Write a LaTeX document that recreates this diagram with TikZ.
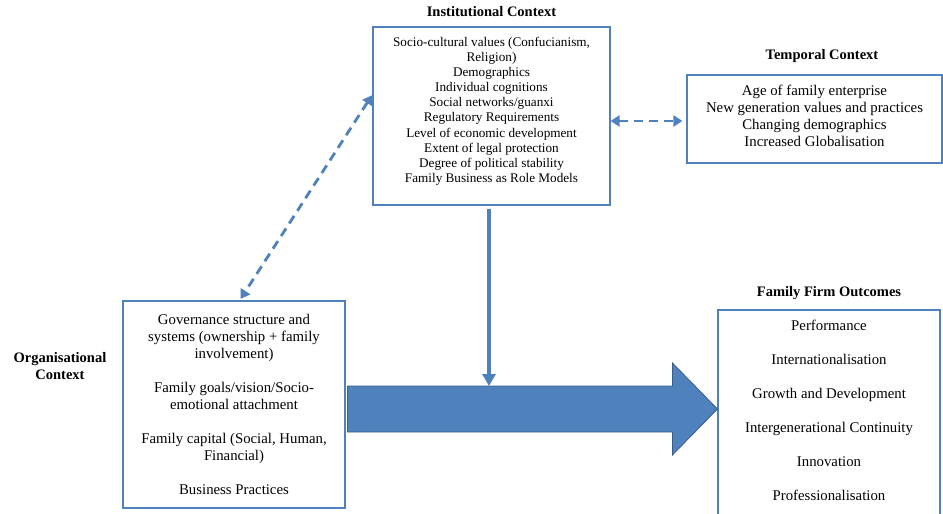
\documentclass[tikz,border=0pt]{standalone}
\usepackage{fontspec}
\setmainfont{Liberation Serif}
\usetikzlibrary{arrows.meta,calc,positioning}
\definecolor{accent}{HTML}{4F81BD}
\definecolor{edgeblue}{HTML}{385D8A}

\begin{document}
\begin{tikzpicture}[x=1pt,y=-1pt,>=Stealth,
  frame/.style={draw=accent,line width=1.1pt,inner sep=0pt},
  body/.style={align=center,inner sep=0pt,font=\fontsize{14.8}{17}\selectfont},
  smallbody/.style={align=center,inner sep=0pt,font=\fontsize{13.2}{15.1}\selectfont},
  title/.style={align=center,inner sep=0pt,font=\fontsize{14.5}{17}\selectfont\bfseries},
  linkarrow/.style={accent,line width=2.8pt,dash pattern=on 9pt off 6pt,
    {Triangle[length=9pt,width=11pt]}-{Triangle[length=9pt,width=11pt]}},
  mainarrow/.style={accent,line width=4.5pt,-{Triangle[length=12pt,width=13pt]}}]
  \useasboundingbox (0,0) rectangle (943,514);

  % boxes
  \node[frame,minimum width=237pt,minimum height=178pt] (inst) at (491.5,116) {};
  \node[smallbody,anchor=north] (instText) at ($(inst.north)+(0,10.5)$) {Socio-cultural values (Confucianism,\\ Religion)\\ Demographics\\ Individual cognitions\\ Social networks/guanxi\\ Regulatory Requirements\\ Level of economic development\\ Extent of legal protection\\ Degree of political stability\\ Family Business as Role Models};
  \node[title,above=10pt of inst] (instTitle) {Institutional Context};

  \node[frame,minimum width=255pt,minimum height=88pt] (temp) at (814.5,119) {};
  \node[body] (tempText) at ($(temp)+(0,-3)$) {Age of family enterprise\\ New generation values and practices\\ Changing demographics\\ Increased Globalisation};
  \node[title] (tempTitle) at (822,56) {Temporal Context};

  \node[frame,body,minimum width=222pt,minimum height=207pt] (org) at (234,404.5) {Governance structure and\\ systems (ownership + family\\ involvement)\\[17pt] Family goals/vision/Socio-\\ emotional attachment\\[17pt] Family capital (Social, Human,\\ Financial)\\[17pt] Business Practices};
  \node[title] (orgTitle) at (60,366.5) {Organisational\\ Context};

  \node[frame,minimum width=222pt,minimum height=220pt] (outc) at (829,420) {};
  \node[body,anchor=north] (outcText) at ($(outc.north)+(0,10)$) {Performance\\[17pt] Internationalisation\\[17pt] Growth and Development\\[17pt] Intergenerational Continuity\\[17pt] Innovation\\[17pt] Professionalisation};
  \node[title,above=10pt of outc] (outcTitle) {Family Firm Outcomes};

  % big block arrow
  \coordinate (bigTail) at ($(org.east)+(2,4.5)$);
  \coordinate (bigTip) at (outc.west |- bigTail);
  \coordinate (shaftTop) at ($(bigTail)+(0,-23)$);
  \draw[edgeblue,fill=accent,line width=0.8pt,line join=miter]
    (shaftTop) -- ($(bigTip)+(-45,-23)$) -- ($(bigTip)+(-45,-46)$) -- (bigTip)
    -- ($(bigTip)+(-45,46)$) -- ($(bigTip)+(-45,23)$) -- ($(bigTail)+(0,23)$) -- cycle;

  % links
  \draw[mainarrow] ([xshift=-2.5pt,yshift=-3pt]inst.south) coordinate (vTop) -- (vTop |- shaftTop);
  \draw[linkarrow,shorten <=1pt,shorten >=2pt] ($(inst.north west)!0.38!(inst.south west)$) -- ($(org.north west)!0.525!(org.north east)$);
  \draw[linkarrow,shorten >=4pt] ([yshift=-2pt]inst.east |- temp.west) -- ([yshift=-2pt]temp.west);
\end{tikzpicture}
\end{document}
